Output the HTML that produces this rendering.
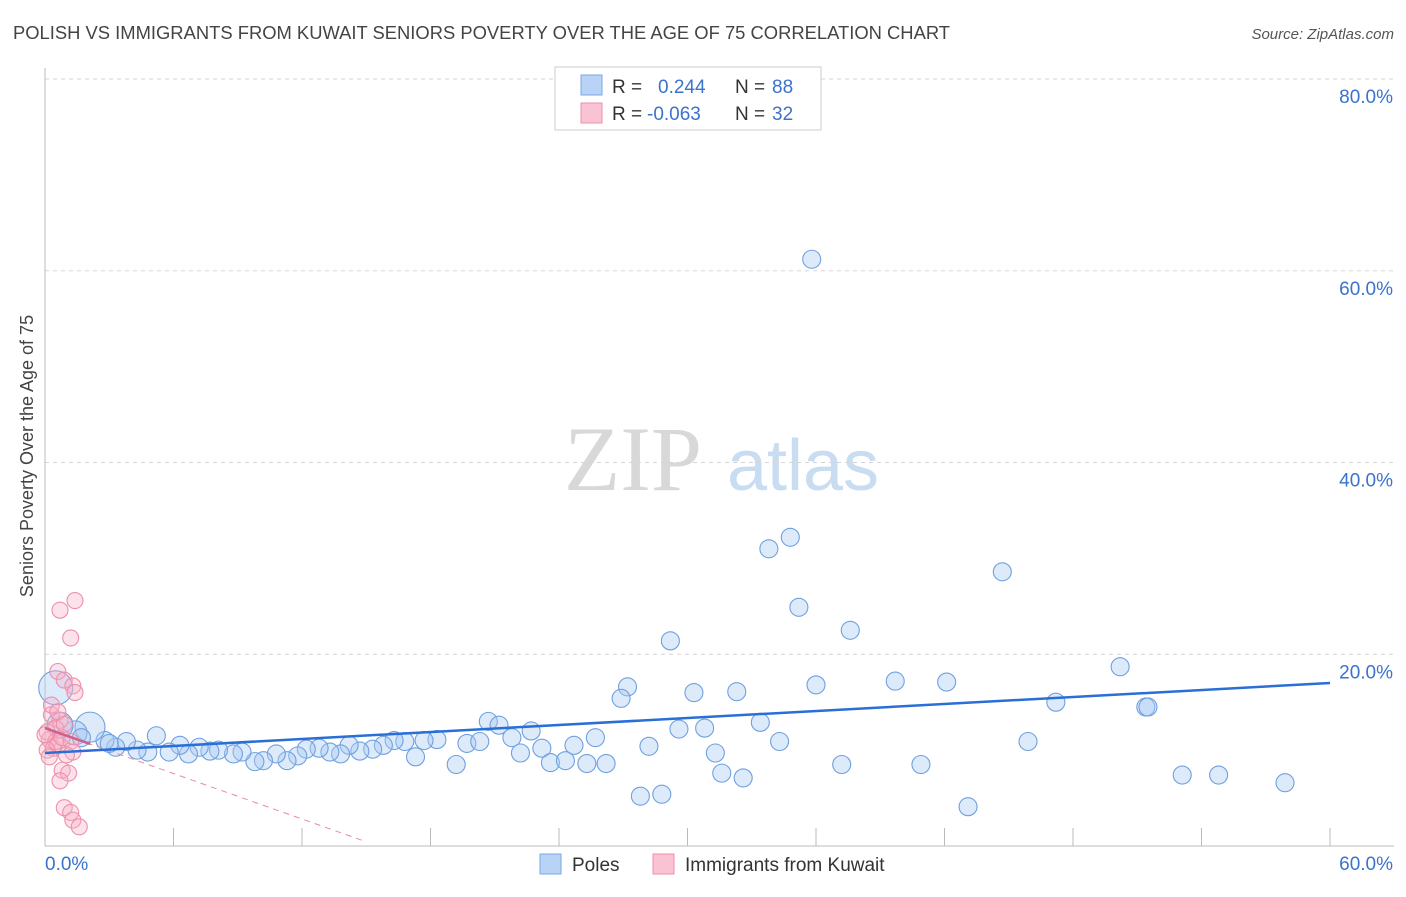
<!DOCTYPE html>
<html><head><meta charset="utf-8"><style>
body{margin:0;background:#fff;font-family:"Liberation Sans",sans-serif}
</style></head><body>
<svg id="chart" width="1406" height="892" viewBox="0 0 1406 892" xmlns="http://www.w3.org/2000/svg" font-family="Liberation Sans, sans-serif">
<text x="13" y="39" font-size="18" fill="#444" textLength="937" lengthAdjust="spacingAndGlyphs">POLISH VS IMMIGRANTS FROM KUWAIT SENIORS POVERTY OVER THE AGE OF 75 CORRELATION CHART</text>
<text x="1394" y="39" font-size="15" fill="#555" text-anchor="end" font-style="italic">Source: ZipAtlas.com</text>
<g>
<text x="633" y="490" font-size="92" fill="#d8d8d8" text-anchor="middle" style="font-family:'Liberation Serif',serif">ZIP</text>
<text x="803" y="490" font-size="72" fill="#c8dcf2" text-anchor="middle">atlas</text>
</g>
<g id="grid"></g>
<g id="axes"></g>
<g id="marks"></g>
<text transform="translate(33,456) rotate(-90)" font-size="18" fill="#444" text-anchor="middle">Seniors Poverty Over the Age of 75</text>
<g>
<rect x="555" y="67" width="266" height="63" fill="#fff" stroke="#ccc"/>
<rect x="581" y="75" width="21" height="20" fill="#b8d3f5" stroke="#7aa8e8"/>
<rect x="581" y="103" width="21" height="20" fill="#f9c3d3" stroke="#ee8fab"/>
<text x="612" y="93" font-size="19" fill="#333">R =</text>
<text x="658" y="93" font-size="19" fill="#3a73cc">0.244</text>
<text x="735" y="93" font-size="19" fill="#333">N =</text>
<text x="772" y="93" font-size="19" fill="#3a73cc">88</text>
<text x="612" y="120" font-size="19" fill="#333">R =</text>
<text x="647" y="120" font-size="19" fill="#3a73cc">-0.063</text>
<text x="735" y="120" font-size="19" fill="#333">N =</text>
<text x="772" y="120" font-size="19" fill="#3a73cc">32</text>
</g>
<g>
<rect x="540" y="854" width="21" height="20" fill="#b8d3f5" stroke="#7aa8e8"/>
<text x="572" y="871" font-size="19" fill="#333">Poles</text>
<rect x="653" y="854" width="21" height="20" fill="#f9c3d3" stroke="#ee8fab"/>
<text x="685" y="871" font-size="19" fill="#333">Immigrants from Kuwait</text>
</g>
</svg>
<script>
const xTicks=[6,12,18,24,30,36,42,48,54,60];
const yTicks=[20,40,60,80];
const polesX=[35.8,33.8,34.8,35.2,44.7,37.6,29.2,50.2,27.2,26.9,30.3,32.3,36.0,39.7,42.1,47.2,51.4,51.5,20.7,21.2,22.7,25.7,21.8,29.6,30.8,33.4,34.3,45.9,28.2,24.7,23.2,22.2,19.7,20.3,18.3,17.7,16.8,16.3,15.8,15.3,14.7,14.2,13.8,13.3,12.8,12.2,11.8,11.3,10.8,10.2,9.8,9.2,8.8,8.1,7.7,7.2,6.7,6.3,5.8,5.2,4.8,4.3,3.8,3.3,2.8,2.1,1.4,0.5,0.7,17.3,19.2,23.6,24.3,25.3,26.2,31.3,31.6,32.6,37.2,40.9,27.8,28.8,43.1,53.1,54.8,57.9,1.7,3.0];
const polesY=[61.2,31.0,32.2,24.9,28.6,22.5,21.4,18.7,16.6,15.4,16.0,16.1,16.8,17.2,17.1,15.0,14.5,14.5,13.0,12.6,12.0,11.3,11.3,12.2,12.3,12.9,10.9,10.9,10.4,10.5,10.2,9.7,10.7,10.9,11.1,11.0,10.9,11.0,10.5,10.1,9.9,10.5,9.6,9.8,10.2,10.1,9.4,8.9,9.6,8.9,8.8,9.8,9.6,10.0,9.9,10.3,9.6,10.5,9.8,11.5,9.8,10.0,10.9,10.3,11.0,12.4,11.8,16.5,12.6,9.3,8.5,8.7,8.9,8.6,8.6,9.7,7.6,7.1,8.5,8.5,5.2,5.4,4.1,7.4,7.4,6.6,11.3,10.7];
const polesBig=[[2.1,15],[0.5,17],[0.7,13],[1.4,12]];
const kuwaitX=[1.4,0.7,1.2,0.6,0.9,1.3,1.4,0.3,0.7,0.5,0.2,0.4,0.6,1.2,1.3,0.8,1.1,0.7,0.9,1.2,1.3,1.6,0.1,0.5,0.8,1.0,0.3,0.6,0.0,0.1,0.2,0.9];
const kuwaitY=[25.6,24.6,21.7,18.2,17.3,16.7,16.0,13.7,13.1,12.3,11.1,10.2,10.5,10.9,9.8,7.9,7.6,6.8,4.0,3.5,2.7,2.0,11.9,10.9,11.3,9.5,14.7,14.0,11.6,10.0,9.3,12.7];
const polesTrend=[9.7,17.0];
const kuwaitTrend=[12.3,0.6];
const kuwaitDashEnd=14.8;

const X0=45,X1=1330,Y0=846,YTOP=79;
const sx=v=>X0+(X1-X0)*v/60;
const sy=v=>Y0-(Y0-YTOP)*v/80;
const NS="http://www.w3.org/2000/svg";
function mk(tag,attrs,parent){const e=document.createElementNS(NS,tag);for(const k in attrs)e.setAttribute(k,attrs[k]);parent.appendChild(e);return e;}
const grid=document.getElementById('grid'),axes=document.getElementById('axes'),marks=document.getElementById('marks');
yTicks.forEach(t=>{
 const l=mk('line',{x1:X0,x2:1394,y1:sy(t),y2:sy(t),stroke:'#d5d5d5','stroke-dasharray':'4,4'},grid);
 
 
 const tx=mk('text',{x:1393,y:sy(t)+24,'font-size':19,fill:'#3a73cc','text-anchor':'end'},axes);
 tx.textContent=t.toFixed(1)+'%';
 
 
});
const ax=mk('line',{x1:X0,x2:X0,y1:68,y2:Y0,stroke:'#bbb'},axes);


const bx=mk('line',{x1:X0,x2:1394,y1:Y0,y2:Y0,stroke:'#bbb'},axes);


xTicks.forEach(t=>{const tk=mk('line',{x1:sx(t),x2:sx(t),y1:828,y2:Y0,stroke:'#bbb'},axes);
 
 });
[[0,'0.0%',45,'start'],[60,'60.0%',1393,'end']].forEach(a=>{const t=mk('text',{x:a[2],y:870,'font-size':19,fill:'#3a73cc','text-anchor':a[3]},axes);t.textContent=a[1];
 
 });
const bigMap={};polesBig.forEach(b=>bigMap[b[0]]=b[1]);
polesX.forEach((x,i)=>{const c=mk('circle',{cx:sx(x),cy:sy(polesY[i]),r:bigMap[x]||9,fill:'rgba(170,202,242,0.4)',stroke:'#6fa0e0','stroke-width':1.1},marks);
 
 });
kuwaitX.forEach((x,i)=>{const c=mk('circle',{cx:sx(x),cy:sy(kuwaitY[i]),r:8,fill:'rgba(245,175,198,0.35)',stroke:'#ee8fab','stroke-width':1.1},marks);
 
 });
const kd=mk('line',{x1:sx(0),y1:sy(kuwaitTrend[0]),x2:sx(kuwaitDashEnd),y2:sy(kuwaitTrend[1]),stroke:'#e88aa5','stroke-dasharray':'6,5','stroke-width':1},marks);


const slopeK=(kuwaitTrend[1]-kuwaitTrend[0])/kuwaitDashEnd;
const ks=mk('line',{x1:sx(0),y1:sy(kuwaitTrend[0]),x2:sx(2.1),y2:sy(kuwaitTrend[0]+slopeK*2.1),stroke:'#d0608a','stroke-width':2.5},marks);


const pt=mk('line',{x1:sx(0),y1:sy(polesTrend[0]),x2:sx(60),y2:sy(polesTrend[1]),stroke:'#2a6fd6','stroke-width':2.5},marks);


</script>
</body></html>
